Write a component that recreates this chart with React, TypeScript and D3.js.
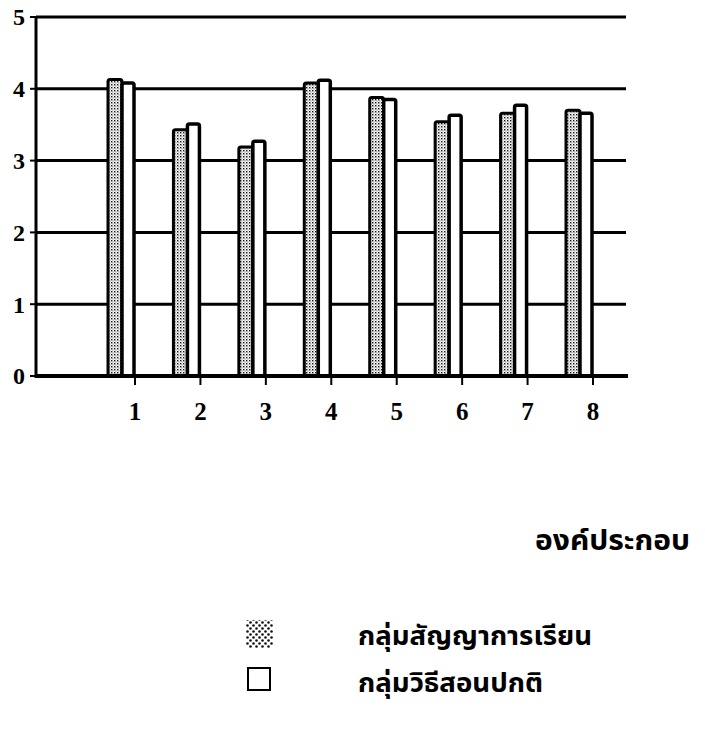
import * as React from 'react';
import * as d3 from 'd3';

const categories = ['1', '2', '3', '4', '5', '6', '7', '8'];
const learningContract = [4.13, 3.43, 3.19, 4.08, 3.88, 3.54, 3.66, 3.7];
const normalTeaching = [4.08, 3.51, 3.27, 4.12, 3.85, 3.63, 3.77, 3.66];
const yTicks = [0, 1, 2, 3, 4, 5];
const seriesNames = ['กลุ่มสัญญาการเรียน', 'กลุ่มวิธีสอนปกติ'];
const xTitle = 'องค์ประกอบ';

const thaiFont = "'Noto Sans Thai', 'Noto Sans', 'DejaVu Sans', sans-serif";
const numFont = "'Liberation Serif', 'Times New Roman', serif";

export default function App() {
  const width = 705;
  const height = 732;
  const left = 36;
  const right = 626;

  const y = d3.scaleLinear().domain([0, 5]).range([376, 17]);
  const x = d3.scalePoint<string>().domain(categories).range([135, 593]);

  const barA = 14;
  const barB = 12;

  return (
    <svg
      width={width}
      height={height}
      style={{ position: 'absolute', left: 0, top: 0, background: '#fff' }}
    >
      <defs>
        <pattern id="dots" width="3" height="3" patternUnits="userSpaceOnUse">
          <rect width="3" height="3" fill="#fff" />
          <rect x="0" y="0" width="1.4" height="1.4" fill="#111" />
          <rect x="1.5" y="1.5" width="1" height="1" fill="#555" />
        </pattern>
        <pattern id="dotsBig" width="6" height="6" patternUnits="userSpaceOnUse">
          <rect width="6" height="6" fill="#fff" />
          <circle cx="1.5" cy="1.5" r="1.3" fill="#111" />
          <circle cx="4.5" cy="4.5" r="1.3" fill="#111" />
        </pattern>
      </defs>

      {/* grid lines */}
      {yTicks.filter(t => t > 0).map(t => (
        <line key={t} x1={left} x2={right} y1={y(t)} y2={y(t)} stroke="#000" strokeWidth={3} />
      ))}

      {/* y axis */}
      <line x1={left} x2={left} y1={y(5) - 1} y2={y(0) + 2} stroke="#000" strokeWidth={3} />
      {yTicks.map(t => (
        <g key={t}>
          <line x1={left - 6} x2={left} y1={y(t)} y2={y(t)} stroke="#000" strokeWidth={2} />
          <text
            x={left - 11}
            y={y(t)}
            dy="0.35em"
            textAnchor="end"
            fontFamily={numFont}
            fontWeight="bold"
            fontSize={24}
          >
            {t}
          </text>
        </g>
      ))}

      {/* bars */}
      {categories.map((c, i) => {
        const xt = x(c) as number;
        return (
          <g key={c}>
            <rect
              x={xt - barA - barB - 1}
              y={y(learningContract[i])}
              width={barA}
              height={y(0) - y(learningContract[i])}
              rx={2}
              fill="url(#dots)"
              stroke="#000"
              strokeWidth={3}
            />
            <rect
              x={xt - barB - 1}
              y={y(normalTeaching[i])}
              width={barB}
              height={y(0) - y(normalTeaching[i])}
              rx={2}
              fill="#fff"
              stroke="#000"
              strokeWidth={3.5}
            />
          </g>
        );
      })}

      {/* x axis */}
      <line x1={left} x2={right + 2} y1={y(0)} y2={y(0)} stroke="#000" strokeWidth={4} />
      {categories.map(c => (
        <g key={c}>
          <line x1={x(c)} x2={x(c)} y1={y(0)} y2={y(0) + 9} stroke="#000" strokeWidth={2} />
          <text
            x={x(c)}
            y={420}
            textAnchor="middle"
            fontFamily={numFont}
            fontWeight="bold"
            fontSize={25}
          >
            {c}
          </text>
        </g>
      ))}

      <text
        x={535}
        y={550}
        fontFamily={thaiFont}
        fontWeight="bold"
        fontSize={28}
        textLength={155}
        lengthAdjust="spacingAndGlyphs"
      >
        {xTitle}
      </text>

      {/* legend */}
      <rect x={246} y={620} width={27} height={28} fill="url(#dotsBig)" />
      <text
        x={358}
        y={645}
        fontFamily={thaiFont}
        fontWeight="bold"
        fontSize={27}
        textLength={234}
        lengthAdjust="spacingAndGlyphs"
      >
        {seriesNames[0]}
      </text>
      <rect x={248} y={668} width={22} height={22} fill="#fff" stroke="#000" strokeWidth={2} />
      <text
        x={358}
        y={692}
        fontFamily={thaiFont}
        fontWeight="bold"
        fontSize={27}
        textLength={185}
        lengthAdjust="spacingAndGlyphs"
      >
        {seriesNames[1]}
      </text>
    </svg>
  );
}
